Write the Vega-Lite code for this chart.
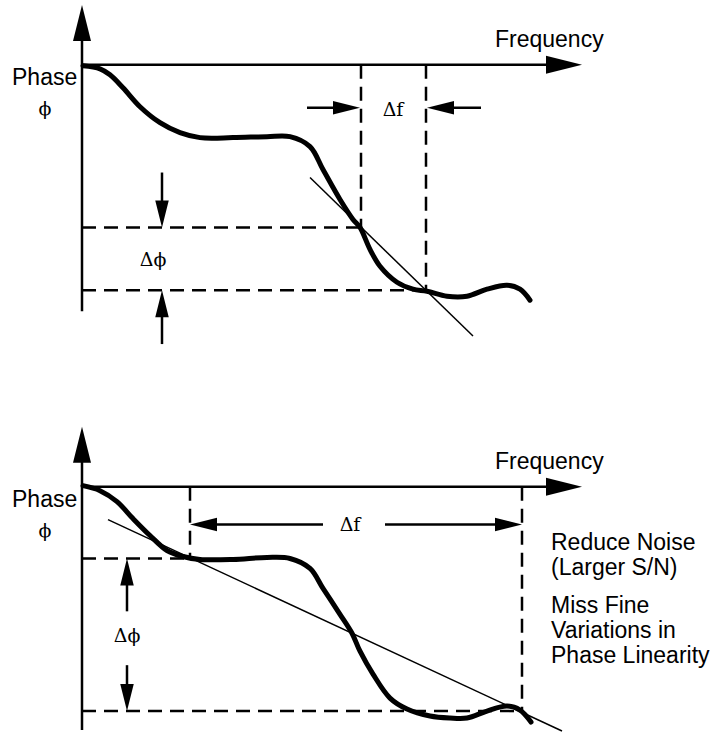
{
  "$schema": "https://vega.github.io/schema/vega-lite/v6.json",
  "width": 715,
  "height": 732,
  "padding": 0,
  "autosize": {"type": "fit", "contains": "padding"},
  "background": "white",
  "config": {"view": {"stroke": null}},
  "datasets": {
    "curves": [
      {"panel": "top", "x": 83, "y": 66}, {"panel": "top", "x": 100, "y": 69}, {"panel": "top", "x": 110, "y": 75},
      {"panel": "top", "x": 123, "y": 88}, {"panel": "top", "x": 140, "y": 107}, {"panel": "top", "x": 160, "y": 123},
      {"panel": "top", "x": 180, "y": 133}, {"panel": "top", "x": 200, "y": 138}, {"panel": "top", "x": 233, "y": 138},
      {"panel": "top", "x": 267, "y": 137}, {"panel": "top", "x": 290, "y": 137}, {"panel": "top", "x": 310, "y": 147},
      {"panel": "top", "x": 323, "y": 170}, {"panel": "top", "x": 340, "y": 200}, {"panel": "top", "x": 353, "y": 220},
      {"panel": "top", "x": 360, "y": 228}, {"panel": "top", "x": 370, "y": 250}, {"panel": "top", "x": 380, "y": 267},
      {"panel": "top", "x": 397, "y": 283}, {"panel": "top", "x": 413, "y": 290}, {"panel": "top", "x": 427, "y": 292},
      {"panel": "top", "x": 447, "y": 297}, {"panel": "top", "x": 467, "y": 297}, {"panel": "top", "x": 487, "y": 290},
      {"panel": "top", "x": 507, "y": 286}, {"panel": "top", "x": 520, "y": 290}, {"panel": "top", "x": 530, "y": 301},
      {"panel": "bottom", "x": 83, "y": 487}, {"panel": "bottom", "x": 100, "y": 492}, {"panel": "bottom", "x": 117, "y": 503},
      {"panel": "bottom", "x": 133, "y": 520}, {"panel": "bottom", "x": 150, "y": 537}, {"panel": "bottom", "x": 167, "y": 552},
      {"panel": "bottom", "x": 183, "y": 558}, {"panel": "bottom", "x": 200, "y": 561}, {"panel": "bottom", "x": 233, "y": 561},
      {"panel": "bottom", "x": 267, "y": 559}, {"panel": "bottom", "x": 290, "y": 560}, {"panel": "bottom", "x": 310, "y": 570},
      {"panel": "bottom", "x": 323, "y": 590}, {"panel": "bottom", "x": 340, "y": 616}, {"panel": "bottom", "x": 352, "y": 635},
      {"panel": "bottom", "x": 360, "y": 653}, {"panel": "bottom", "x": 373, "y": 676}, {"panel": "bottom", "x": 390, "y": 700},
      {"panel": "bottom", "x": 407, "y": 711}, {"panel": "bottom", "x": 430, "y": 718}, {"panel": "bottom", "x": 450, "y": 720},
      {"panel": "bottom", "x": 467, "y": 720}, {"panel": "bottom", "x": 487, "y": 713}, {"panel": "bottom", "x": 507, "y": 708},
      {"panel": "bottom", "x": 520, "y": 712}, {"panel": "bottom", "x": 531, "y": 724}
    ],
    "segments": [
      {"role": "axis", "x": 82, "y": 312, "x2": 82, "y2": 20},
      {"role": "axis", "x": 82, "y": 65, "x2": 560, "y2": 65},
      {"role": "axis", "x": 82, "y": 732, "x2": 82, "y2": 445},
      {"role": "axis", "x": 82, "y": 488, "x2": 560, "y2": 488},
      {"role": "tangent", "x": 310, "y": 178, "x2": 473, "y2": 337},
      {"role": "tangent", "x": 108, "y": 521, "x2": 562, "y2": 733},
      {"role": "guide", "x": 82, "y": 228, "x2": 360, "y2": 228},
      {"role": "guide", "x": 82, "y": 291, "x2": 426, "y2": 291},
      {"role": "guide", "x": 361, "y": 65, "x2": 361, "y2": 228},
      {"role": "guide", "x": 426, "y": 65, "x2": 426, "y2": 291},
      {"role": "guide", "x": 82, "y": 560, "x2": 190, "y2": 560},
      {"role": "guide", "x": 82, "y": 713, "x2": 522, "y2": 713},
      {"role": "guide", "x": 190, "y": 488, "x2": 190, "y2": 560},
      {"role": "guide", "x": 522, "y": 488, "x2": 522, "y2": 713},
      {"role": "dimension", "x": 307, "y": 108, "x2": 345, "y2": 108},
      {"role": "dimension", "x": 481, "y": 108, "x2": 441, "y2": 108},
      {"role": "dimension", "x": 162, "y": 173, "x2": 162, "y2": 212},
      {"role": "dimension", "x": 162, "y": 345, "x2": 162, "y2": 306},
      {"role": "dimension", "x": 323, "y": 526, "x2": 205, "y2": 526},
      {"role": "dimension", "x": 385, "y": 526, "x2": 507, "y2": 526},
      {"role": "dimension", "x": 127, "y": 613, "x2": 127, "y2": 575},
      {"role": "dimension", "x": 127, "y": 667, "x2": 127, "y2": 698}
    ],
    "heads": [
      {"kind": "axis", "dir": "up", "x": 82, "y": 5},
      {"kind": "axis", "dir": "right", "x": 582, "y": 65},
      {"kind": "axis", "dir": "up", "x": 82, "y": 428},
      {"kind": "axis", "dir": "right", "x": 582, "y": 488},
      {"kind": "dimension", "dir": "right", "x": 360, "y": 108},
      {"kind": "dimension", "dir": "left", "x": 427, "y": 108},
      {"kind": "dimension", "dir": "down", "x": 162, "y": 228},
      {"kind": "dimension", "dir": "up", "x": 162, "y": 291},
      {"kind": "dimension", "dir": "left", "x": 190, "y": 526},
      {"kind": "dimension", "dir": "right", "x": 522, "y": 526},
      {"kind": "dimension", "dir": "up", "x": 127, "y": 560},
      {"kind": "dimension", "dir": "down", "x": 127, "y": 713}
    ],
    "words": [
      {"x": 12, "y": 85, "text": "Phase"},
      {"x": 495, "y": 47, "text": "Frequency"},
      {"x": 12, "y": 508, "text": "Phase"},
      {"x": 495, "y": 470, "text": "Frequency"},
      {"x": 551, "y": 552, "text": "Reduce Noise"},
      {"x": 551, "y": 577, "text": "(Larger S/N)"},
      {"x": 551, "y": 615, "text": "Miss Fine"},
      {"x": 551, "y": 640, "text": "Variations in"},
      {"x": 551, "y": 665, "text": "Phase Linearity"}
    ],
    "symbols": [
      {"x": 45, "y": 109, "text": "ϕ"},
      {"x": 393, "y": 110, "text": "Δf"},
      {"x": 153, "y": 261, "text": "Δϕ"},
      {"x": 45, "y": 532, "text": "ϕ"},
      {"x": 350, "y": 526, "text": "Δf"},
      {"x": 127, "y": 638, "text": "Δϕ"}
    ]
  },
  "encoding": {
    "x": {"field": "x", "type": "quantitative", "scale": {"domain": [0, 715], "nice": false, "zero": false}, "axis": null},
    "y": {"field": "y", "type": "quantitative", "scale": {"domain": [0, 732], "nice": false, "zero": false, "reverse": true}, "axis": null}
  },
  "layer": [
    {
      "data": {"name": "segments"},
      "transform": [{"filter": "datum.role === 'guide'"}],
      "mark": {"type": "rule", "color": "black", "strokeWidth": 2.5, "strokeDash": [14, 8]},
      "encoding": {"x2": {"field": "x2"}, "y2": {"field": "y2"}}
    },
    {
      "data": {"name": "segments"},
      "transform": [{"filter": "datum.role === 'tangent'"}],
      "mark": {"type": "rule", "color": "black", "strokeWidth": 1.5},
      "encoding": {"x2": {"field": "x2"}, "y2": {"field": "y2"}}
    },
    {
      "data": {"name": "segments"},
      "transform": [{"filter": "datum.role === 'axis' || datum.role === 'dimension'"}],
      "mark": {"type": "rule", "color": "black", "strokeWidth": 2.5},
      "encoding": {"x2": {"field": "x2"}, "y2": {"field": "y2"}}
    },
    {
      "data": {"name": "curves"},
      "mark": {"type": "line", "color": "black", "strokeWidth": 5, "interpolate": "catmull-rom", "strokeCap": "round", "strokeJoin": "round"},
      "encoding": {"detail": {"field": "panel"}, "order": {"field": "x", "type": "quantitative"}}
    },
    {
      "data": {"name": "heads"},
      "mark": {"type": "point", "filled": true, "color": "black", "opacity": 1, "strokeWidth": 0},
      "encoding": {
        "shape": {"field": "dir", "type": "nominal", "legend": null, "scale": {"domain": ["right", "left", "down", "up"], "range": ["M0,0L-2,-0.5L-2,0.5Z", "M0,0L2,-0.5L2,0.5Z", "M0,0L-0.5,-2L0.5,-2Z", "M0,0L-0.5,2L0.5,2Z"]}},
        "size": {"field": "kind", "type": "ordinal", "legend": null, "scale": {"domain": ["axis", "dimension"], "range": [1296, 729]}}
      }
    },
    {
      "data": {"name": "words"},
      "mark": {"type": "text", "font": "Liberation Sans", "fontSize": 23, "align": "left", "baseline": "alphabetic", "color": "black"},
      "encoding": {"text": {"field": "text"}}
    },
    {
      "data": {"name": "symbols"},
      "mark": {"type": "text", "font": "DejaVu Serif", "fontSize": 19, "align": "center", "baseline": "middle", "color": "black"},
      "encoding": {"text": {"field": "text"}}
    }
  ]
}
